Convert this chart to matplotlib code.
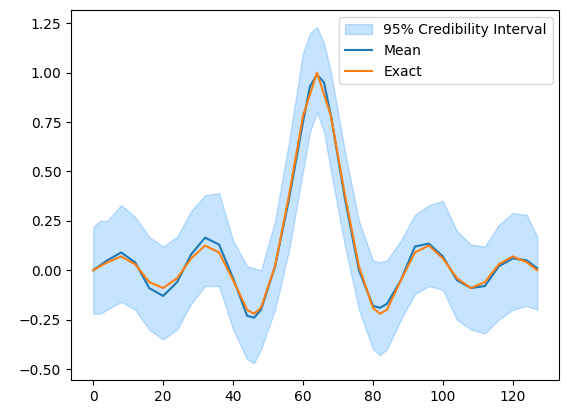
import matplotlib as mpl
mpl.use('Agg')
import matplotlib.pyplot as plt

# values
x_exact = [0, 4, 8, 12, 16, 20, 24, 28, 32, 36, 40, 44, 46, 48, 52, 56, 60, 64, 68, 72, 76, 80, 82, 84, 88, 92, 96, 100, 104, 108, 112, 116, 120, 124, 127]
exact = [0.0, 0.04, 0.07, 0.03, -0.06, -0.09, -0.04, 0.06, 0.125, 0.09, -0.05, -0.2, -0.22, -0.19, 0.02, 0.38, 0.78, 1.0, 0.78, 0.38, 0.02, -0.19, -0.22, -0.2, -0.05, 0.09, 0.125, 0.06, -0.04, -0.09, -0.06, 0.03, 0.07, 0.04, 0.0]

x_mean = [0, 4, 8, 12, 16, 20, 24, 28, 32, 36, 40, 44, 46, 48, 52, 56, 60, 62, 64, 66, 68, 72, 76, 80, 82, 84, 88, 92, 96, 100, 104, 108, 112, 116, 120, 124, 127]
mean = [0.0, 0.05, 0.09, 0.04, -0.09, -0.13, -0.06, 0.08, 0.165, 0.13, -0.04, -0.23, -0.24, -0.2, 0.02, 0.36, 0.75, 0.93, 0.99, 0.95, 0.78, 0.36, 0.0, -0.18, -0.19, -0.17, -0.05, 0.12, 0.135, 0.07, -0.05, -0.09, -0.08, 0.02, 0.06, 0.05, 0.01]

x_band = [0, 2, 4, 8, 12, 16, 20, 24, 28, 32, 36, 40, 44, 46, 48, 52, 56, 60, 62, 64, 66, 68, 72, 76, 80, 82, 84, 88, 92, 96, 100, 104, 108, 112, 116, 120, 124, 127]
upper = [0.22, 0.25, 0.25, 0.33, 0.27, 0.17, 0.12, 0.17, 0.3, 0.38, 0.39, 0.15, 0.02, 0.01, 0.0, 0.25, 0.65, 1.1, 1.2, 1.23, 1.15, 1.0, 0.6, 0.25, 0.05, 0.04, 0.05, 0.15, 0.28, 0.33, 0.35, 0.2, 0.13, 0.12, 0.23, 0.29, 0.28, 0.17]
lower = [-0.22, -0.22, -0.2, -0.16, -0.2, -0.3, -0.35, -0.3, -0.17, -0.08, -0.08, -0.3, -0.45, -0.47, -0.4, -0.2, 0.1, 0.5, 0.7, 0.8, 0.7, 0.5, 0.12, -0.2, -0.4, -0.43, -0.4, -0.25, -0.12, -0.08, -0.1, -0.25, -0.3, -0.32, -0.25, -0.2, -0.18, -0.2]

fig, ax = plt.subplots(figsize=(5.68, 4.13), dpi=100)
ax.fill_between(x_band, lower, upper, color='dodgerblue', alpha=0.25, label='95% Credibility Interval')
ax.plot(x_mean, mean, label='Mean')
ax.plot(x_exact, exact, label='Exact')
ax.legend(loc='upper right')
fig.subplots_adjust(left=0.125, right=0.985, top=0.975, bottom=0.08)
fig.savefig('out.png')
